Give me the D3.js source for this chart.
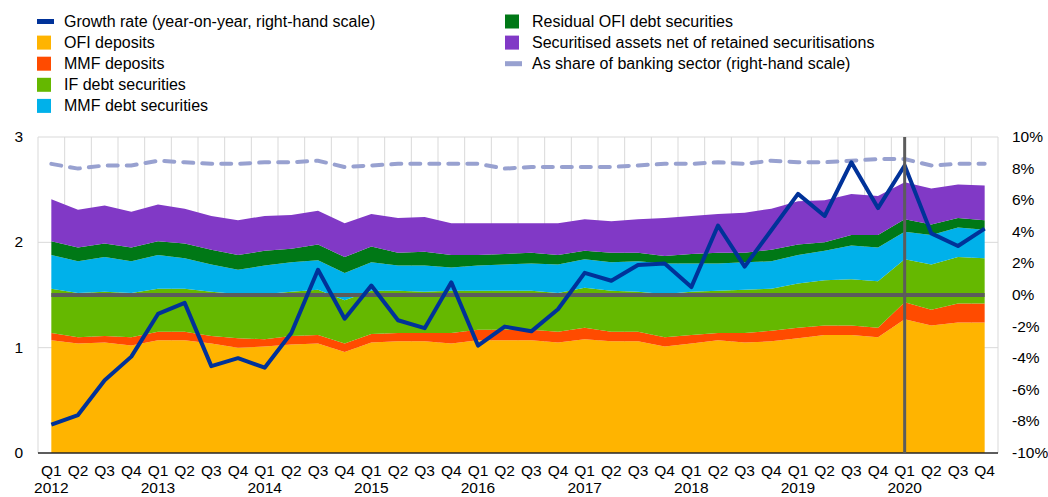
<!DOCTYPE html>
<html>
<head>
<meta charset="utf-8">
<script src="https://cdn.jsdelivr.net/npm/d3@7"></script>
<style>
    body { margin: 0; background: #fff; }
    text { font-family: "Liberation Sans", Arial, sans-serif; fill: #000; }
</style>
</head>
<body>
<svg></svg>
<script>
let quarters = ["Q1","Q2","Q3","Q4"]
let years = ["2012","2013","2014","2015","2016","2017","2018","2019","2020"]

let ofiDeposits = [1.07,1.04,1.05,1.02,1.07,1.07,1.04,1.00,1.01,1.03,1.04,0.96,
                   1.05,1.06,1.06,1.04,1.07,1.07,1.07,1.05,1.08,1.06,1.06,1.01,
                   1.04,1.07,1.05,1.06,1.09,1.12,1.12,1.10,1.27,1.21,1.24,1.24]
let mmfDeposits = [0.07,0.06,0.06,0.08,0.08,0.08,0.07,0.09,0.07,0.08,0.08,0.08,
                   0.08,0.08,0.08,0.10,0.10,0.10,0.10,0.10,0.11,0.09,0.09,0.09,
                   0.08,0.07,0.09,0.10,0.10,0.09,0.09,0.09,0.16,0.15,0.18,0.18]
let ifDebt = [0.42,0.42,0.42,0.42,0.41,0.41,0.42,0.42,0.43,0.42,0.43,0.41,
              0.41,0.40,0.39,0.40,0.37,0.37,0.37,0.37,0.38,0.39,0.38,0.41,
              0.41,0.40,0.41,0.40,0.42,0.43,0.44,0.44,0.41,0.43,0.44,0.43]
let mmfDebt = [0.32,0.30,0.33,0.30,0.32,0.29,0.26,0.23,0.27,0.28,0.28,0.26,
               0.27,0.24,0.25,0.22,0.24,0.25,0.26,0.27,0.27,0.27,0.29,0.29,
               0.27,0.26,0.26,0.26,0.27,0.28,0.32,0.32,0.26,0.28,0.28,0.27]
let residualOfi = [0.13,0.13,0.13,0.13,0.13,0.14,0.14,0.14,0.14,0.13,0.15,0.15,
                   0.15,0.12,0.13,0.12,0.10,0.10,0.10,0.09,0.08,0.09,0.08,0.07,
                   0.09,0.10,0.09,0.11,0.10,0.08,0.10,0.12,0.12,0.10,0.09,0.09]
let securitised = [0.40,0.36,0.36,0.34,0.35,0.33,0.32,0.33,0.33,0.32,0.32,0.32,
                   0.31,0.33,0.33,0.30,0.30,0.29,0.28,0.30,0.30,0.30,0.32,0.36,
                   0.36,0.37,0.38,0.39,0.41,0.40,0.39,0.37,0.35,0.34,0.32,0.33]

// right-hand scale, %
let growth = [-8.2,-7.6,-5.4,-3.9,-1.2,-0.5,-4.5,-4.0,-4.6,-2.4,1.6,-1.5,
              0.6,-1.6,-2.1,0.8,-3.2,-2.0,-2.3,-0.9,1.4,0.9,1.9,2.0,
              0.5,4.4,1.8,4.1,6.4,5.0,8.4,5.5,8.2,3.9,3.1,4.2]
let bankShare = [8.3,8.0,8.2,8.2,8.5,8.4,8.3,8.3,8.4,8.4,8.5,8.1,
                 8.2,8.3,8.3,8.3,8.3,8.0,8.1,8.1,8.1,8.1,8.2,8.3,
                 8.3,8.4,8.3,8.5,8.4,8.4,8.5,8.6,8.6,8.2,8.3,8.3]

let leftTicks = [0,1,2,3]
let rightTicks = [-10,-8,-6,-4,-2,0,2,4,6,8,10]
let markerQuarter = 32 // Q1 2020

let width = 1048
let height = 497
let plotLeft = 38
let plotRight = 998
let plotTop = 137
let plotBottom = 453

let keys = ["ofi","mmfDep","ifDebt","mmfDebt","residual","secur"]
let colors = {ofi:"#ffb400", mmfDep:"#ff4b00", ifDebt:"#65b800", mmfDebt:"#00b1ea", residual:"#007816", secur:"#8139c6"}

let rows = ofiDeposits.map((v, i) => ({
    i: i,
    ofi: v, mmfDep: mmfDeposits[i], ifDebt: ifDebt[i],
    mmfDebt: mmfDebt[i], residual: residualOfi[i], secur: securitised[i]
}))

let svg = d3.select("svg").attr("width", width).attr("height", height)

let xScale = d3.scalePoint()
               .domain(d3.range(ofiDeposits.length))
               .range([plotLeft, plotRight])
               .padding(0.5)
let step = xScale.step()

let yScale = d3.scaleLinear().domain([0, 3]).range([plotBottom, plotTop])
let yRight = d3.scaleLinear().domain([-10, 10]).range([plotBottom, plotTop])

// grid
let grid = svg.append("g")
d3.range(ofiDeposits.length + 1).forEach((k) => {
    grid.append("line")
        .attr("x1", plotLeft + k * step).attr("x2", plotLeft + k * step)
        .attr("y1", plotTop).attr("y2", plotBottom)
        .attr("stroke", "#d9d9d9").attr("stroke-width", 1)
})
leftTicks.filter(t => t > 0).forEach((t) => {
    grid.append("line")
        .attr("x1", plotLeft).attr("x2", plotRight)
        .attr("y1", yScale(t)).attr("y2", yScale(t))
        .attr("stroke", "#d9d9d9").attr("stroke-width", 1)
})

// stacked areas
let stacked = d3.stack().keys(keys)(rows)
let area = d3.area()
             .x(d => xScale(d.data.i))
             .y0(d => yScale(d[0]))
             .y1(d => yScale(d[1]))

svg.append("g")
    .selectAll("path")
    .data(stacked)
    .enter()
    .append("path")
    .attr("d", area)
    .attr("fill", d => colors[d.key])

// zero line of right scale
let firstX = xScale(0)
let lastX = xScale(ofiDeposits.length - 1)
svg.append("line")
    .attr("x1", firstX).attr("x2", lastX)
    .attr("y1", yRight(0)).attr("y2", yRight(0))
    .attr("stroke", "#5c5c5c").attr("stroke-width", 4)

// bottom axis line
svg.append("line")
    .attr("x1", plotLeft).attr("x2", plotRight)
    .attr("y1", plotBottom).attr("y2", plotBottom)
    .attr("stroke", "#262626").attr("stroke-width", 1.5)

// share of banking sector
let valueLine = d3.line()
                  .x((d, i) => xScale(i))
                  .y(d => yRight(d))
svg.append("path")
    .attr("d", valueLine(bankShare))
    .attr("fill", "none")
    .attr("stroke", "#98a1d0")
    .attr("stroke-width", 4)
    .attr("stroke-dasharray", "10,9")
    .attr("stroke-linecap", "round")

// growth rate
svg.append("path")
    .attr("d", valueLine(growth))
    .attr("fill", "none")
    .attr("stroke", "#003299")
    .attr("stroke-width", 4)
    .attr("stroke-linejoin", "round")

// marker at Q1 2020
svg.append("line")
    .attr("x1", xScale(markerQuarter)).attr("x2", xScale(markerQuarter))
    .attr("y1", plotTop).attr("y2", plotBottom)
    .attr("stroke", "#5c5c5c").attr("stroke-width", 3)

// axes labels
leftTicks.forEach((t) => {
    svg.append("text")
        .attr("x", 23).attr("y", yScale(t) + 5)
        .attr("text-anchor", "end")
        .style("font-size", "15.5px")
        .text(t)
})
rightTicks.forEach((t) => {
    svg.append("text")
        .attr("x", 1012).attr("y", yRight(t) + 5)
        .style("font-size", "15.5px")
        .text(t + "%")
})
d3.range(ofiDeposits.length).forEach((i) => {
    svg.append("text")
        .attr("x", xScale(i)).attr("y", 476)
        .attr("text-anchor", "middle")
        .style("font-size", "15.5px")
        .text(quarters[i % 4])
    if (i % 4 == 0) {
        svg.append("text")
            .attr("x", xScale(i)).attr("y", 493)
            .attr("text-anchor", "middle")
            .style("font-size", "15.5px")
            .text(years[i / 4])
    }
})

// legend
let legend = [
    {label: "Growth rate (year-on-year, right-hand scale)", color: "#003299", kind: "line", x: 37, row: 0},
    {label: "OFI deposits", color: colors.ofi, kind: "box", x: 37, row: 1},
    {label: "MMF deposits", color: colors.mmfDep, kind: "box", x: 37, row: 2},
    {label: "IF debt securities", color: colors.ifDebt, kind: "box", x: 37, row: 3},
    {label: "MMF debt securities", color: colors.mmfDebt, kind: "box", x: 37, row: 4},
    {label: "Residual OFI debt securities", color: colors.residual, kind: "box", x: 505, row: 0},
    {label: "Securitised assets net of retained securitisations", color: colors.secur, kind: "box", x: 505, row: 1},
    {label: "As share of banking sector (right-hand scale)", color: "#98a1d0", kind: "line", x: 505, row: 2}
]
legend.forEach((d) => {
    let cy = 21.5 + d.row * 21.1
    if (d.kind == "box") {
        svg.append("rect")
            .attr("x", d.x).attr("y", cy - 7)
            .attr("width", 14).attr("height", 14)
            .attr("fill", d.color)
    } else {
        svg.append("rect")
            .attr("x", d.x).attr("y", cy - 2.5)
            .attr("width", 17).attr("height", 5)
            .attr("fill", d.color)
    }
    svg.append("text")
        .attr("x", d.x + 27).attr("y", cy + 5.5)
        .style("font-size", "16px")
        .text(d.label)
})
</script>
</body>
</html>
